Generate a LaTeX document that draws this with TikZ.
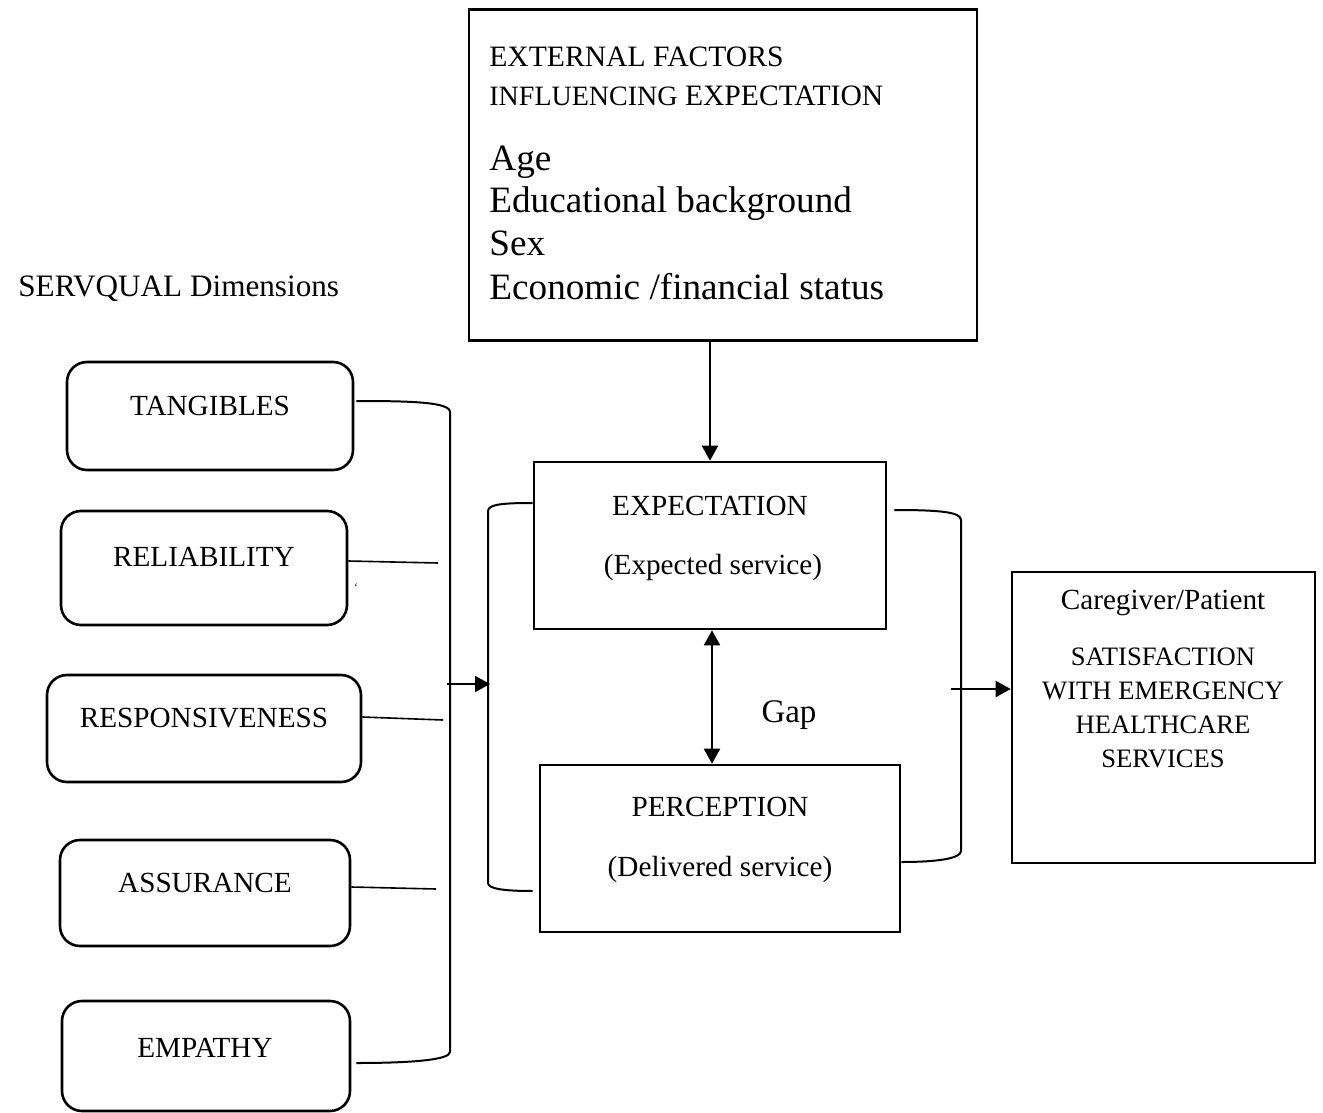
\documentclass[tikz,border=0pt]{standalone}
\usepackage{fontspec}
\setmainfont{Liberation Serif}
\usetikzlibrary{arrows.meta,calc}
\begin{document}
\begin{tikzpicture}[x=0.5pt,y=-0.5pt,
  box/.style={draw, line width=1.3pt, inner sep=0pt},
  rbox/.style={box, rounded corners=10pt},
  lbl/.style={inner sep=0pt, anchor=base, font=\fontsize{14.6pt}{17pt}\selectfont},
  big/.style={inner sep=0pt, anchor=base west, font=\fontsize{18.6pt}{21.5pt}\selectfont},
  capsl/.style={inner sep=0pt, anchor=base, font=\fontsize{13.3pt}{16pt}\selectfont},
  conn/.style={line width=1pt},
  thinl/.style={line width=0.8pt},
  arr/.style={line width=1pt, -{Triangle[length=7.5pt,width=8pt]}},
  darr/.style={line width=1pt, {Triangle[length=7.5pt,width=8pt]}-{Triangle[length=7.5pt,width=8pt]}}
]
\useasboundingbox (0,0) rectangle (1323,1113);

% top box
\node[box, minimum width=254pt, minimum height=165.5pt] (ext) at (723,175) {};
\node[lbl, anchor=base west, font=\fontsize{14.8pt}{17pt}\selectfont] (ext1) at (489,67) {EXTERNAL FACTORS};
\node[lbl, anchor=base west, font=\fontsize{14.8pt}{17pt}\selectfont] (ext2) at (489,105) {{\fontsize{14pt}{17pt}\selectfont INFLUENCING} EXPECTATION};
\node[big] (f1) at (489,170) {Age};
\node[big] (f2) at (489,213) {Educational background};
\node[big] (f3) at (489,256) {Sex};
\node[big] (f4) at (489,299) {Economic /financial status};

% SERVQUAL title
\node[lbl, anchor=base west, font=\fontsize{15.6pt}{18pt}\selectfont] (sq) at (18,296) {SERVQUAL Dimensions};

% left rounded boxes
\node[rbox, minimum width=143pt, minimum height=54pt] (tang) at (210,416) {};
\node[lbl] (tangT) at (210,415) {TANGIBLES};
\node[rbox, minimum width=143pt, minimum height=57pt] (reli) at (204,568) {};
\node[lbl] (reliT) at (204,566) {RELIABILITY};
\node[rbox, minimum width=157pt, minimum height=53.5pt] (resp) at (204,728.5) {};
\node[lbl] (respT) at (204,727) {RESPONSIVENESS};
\node[rbox, minimum width=145pt, minimum height=53pt] (assu) at (205,893) {};
\node[lbl] (assuT) at (205,892) {ASSURANCE};
\node[rbox, minimum width=144pt, minimum height=55pt] (empa) at (206,1056) {};
\node[lbl] (empaT) at (205,1057) {EMPATHY};
\node[inner sep=0pt, text=blue!70!black, font=\fontsize{6pt}{6pt}\selectfont] (tick) at (356,587) {`};

% expectation / perception
\node[box, minimum width=176pt, minimum height=83.5pt] (exp) at (710,545.5) {};
\node[lbl] (expT1) at (710,515) {EXPECTATION};
\node[lbl] (expT2) at (713,574) {(Expected service)};
\node[box, minimum width=180pt, minimum height=83.5pt] (per) at (720,848.5) {};
\node[lbl] (perT1) at (720,816) {PERCEPTION};
\node[lbl] (perT2) at (720,876) {(Delivered service)};
\node[lbl, font=\fontsize{16.5pt}{19pt}\selectfont] (gap) at (789,722) {Gap};

% satisfaction box
\node[box, minimum width=151.5pt, minimum height=145.5pt] (sat) at (1163.5,717.5) {};
\node[lbl] (satT0) at (1163,609) {Caregiver/Patient};
\node[capsl] (satT1) at (1163,665) {SATISFACTION};
\node[capsl] (satT2) at (1163,699) {WITH EMERGENCY};
\node[capsl] (satT3) at (1163,733) {HEALTHCARE};
\node[capsl] (satT4) at (1163,767) {SERVICES};

% coordinates for connector ends
\coordinate (tangE) at ($(tang.east)+(2,-15)$);
\coordinate (empaE) at ($(empa.east)+(5,7)$);
\coordinate (reliE) at ($(reli.east)+(0,-7)$);
\coordinate (reliF) at (438,563);
\coordinate (respE) at ($(resp.east)+(0,-11.5)$);
\coordinate (respF) at (443,720);
\coordinate (assuE) at ($(assu.east)+(0,-6)$);
\coordinate (assuF) at (436,889);
\coordinate (a1) at (447,684);
\coordinate (a1e) at (490,684);
\coordinate (expW) at ($(exp.west)+(0,-42.5)$);
\coordinate (perW) at ($(per.west)+(-6,42.5)$);
\coordinate (expE) at ($(exp.east)+(7,-35.5)$);
\coordinate (perE) at ($(per.east)+(0,13.5)$);
\coordinate (a2) at (951,689);
\coordinate (g1) at ($(exp.south)+(2,0)$);

% left big bracket
\draw[conn] (tangE) .. controls (410,401) and (450,402) .. (450,412)
  -- (450,1052) .. controls (450,1060) and (410,1063) .. (empaE);
\draw[thinl] (reliE) -- (reliF);
\draw[thinl] (respE) -- (respF);
\draw[thinl] (assuE) -- (assuF);
\draw[arr] (a1) -- (a1e);

% inner bracket
\draw[conn] (expW) .. controls (505,503) and (488,504) .. (488,511)
  -- (488,883) .. controls (488,889) and (505,891) .. (perW);

% right bracket
\draw[conn] (expE) .. controls (940,510) and (961,512) .. (961,520)
  -- (961,851) .. controls (961,858) and (940,862) .. (perE);
\draw[arr] (a2) -- (a2 -| sat.west);

% vertical arrows
\draw[arr] (exp.north |- ext.south) -- (exp.north);
\draw[darr] (g1) -- (g1 |- per.north);
\end{tikzpicture}
\end{document}
